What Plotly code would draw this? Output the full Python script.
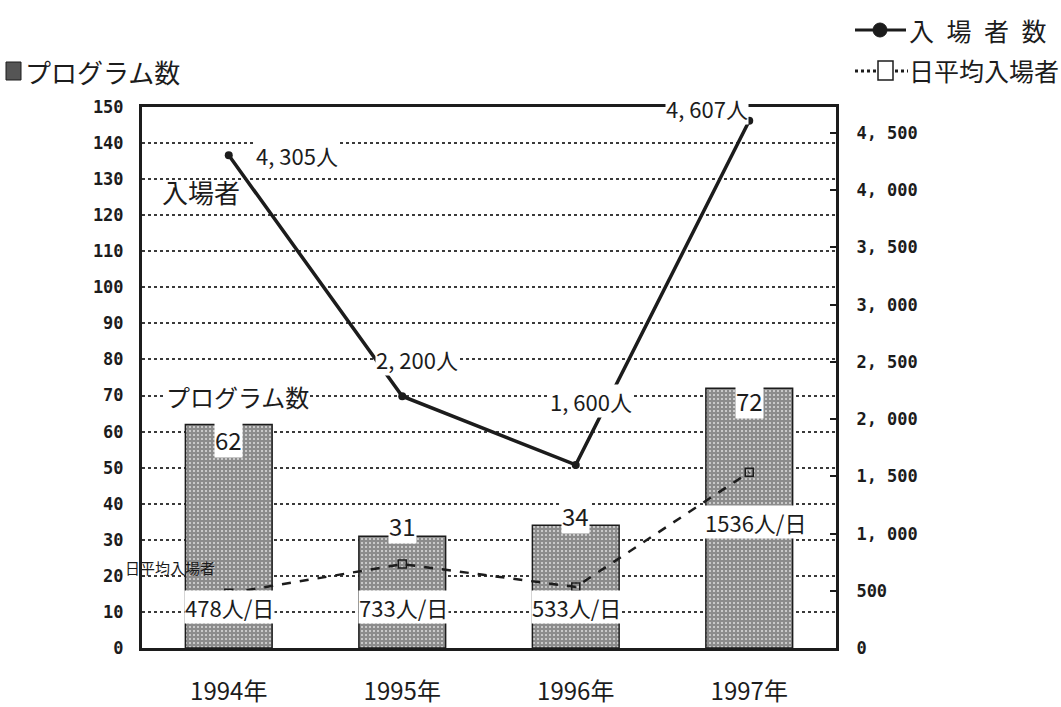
import plotly.graph_objects as go

# ---- data -------------------------------------------------------------
years = ["1994年", "1995年", "1996年", "1997年"]
programs = [62, 31, 34, 72]            # プログラム数 (left axis)
visitors = [4305, 2200, 1600, 4607]    # 入場者数 (right axis)
daily = [478, 733, 533, 1536]          # 日平均入場者 (right axis)

left_ticks = list(range(0, 151, 10))
right_ticks = list(range(0, 4501, 500))

# ---- layout constants (pixels) ---------------------------------------
W, H = 1061, 707
ML, MR, MT, MB = 142, 225, 107, 59
PW, PH = W - ML - MR, H - MT - MB

INK = "#1c1c1c"
JP = "Noto Sans CJK JP"
MONO = "DejaVu Sans Mono"


def px(x):
    return (x - ML) / PW


def py(y):
    return (H - MB - y) / PH


xs = list(range(len(years)))

fig = go.Figure()

fig.add_trace(go.Bar(
    x=xs, y=programs, width=0.5, yaxis="y",
    marker=dict(
        color="white",
        line=dict(color=INK, width=1.5),
        pattern=dict(shape="+", size=4, solidity=0.88, fgcolor="#1a1a1a", bgcolor="white"),
    ),
    showlegend=False, hoverinfo="skip",
))

fig.add_trace(go.Scatter(
    x=xs, y=daily, yaxis="y2", mode="lines+markers",
    line=dict(color=INK, width=2.5, dash="dash"),
    marker=dict(symbol="square-open", size=8, color=INK, line=dict(width=1.5)),
    showlegend=False, hoverinfo="skip",
))

fig.add_trace(go.Scatter(
    x=xs, y=visitors, yaxis="y2", mode="lines+markers",
    line=dict(color=INK, width=3.5),
    marker=dict(symbol="circle", size=8, color=INK),
    showlegend=False, hoverinfo="skip",
))

ann = []


def label(text, x, y, yref="y", size=22, bg="white", xshift=0, yshift=0,
          xanchor="center", font=JP, xref="x"):
    ann.append(dict(
        text=text, x=x, y=y, xref=xref, yref=yref, showarrow=False,
        xanchor=xanchor, yanchor="middle", xshift=xshift, yshift=yshift,
        bgcolor=bg, borderpad=0,
        font=dict(family=font, size=size, color=INK),
    ))


def fmt_people(v):
    return f"{v:,}".replace(",", ", ") + "人"


# 入場者 labels
label(fmt_people(visitors[0]), 0, visitors[0], yref="y2", xanchor="left", xshift=26)
label(fmt_people(visitors[1]), 1, visitors[1], yref="y2", xshift=15, yshift=37)
label(fmt_people(visitors[2]), 2, visitors[2], yref="y2", xshift=15, yshift=64)
label(fmt_people(visitors[3]), 3, visitors[3], yref="y2", xshift=-42, yshift=13)

# program counts
label(str(programs[0]), 0, programs[0], size=24, yshift=-15)
label(str(programs[1]), 1, programs[1], size=24, yshift=11)
label(str(programs[2]), 2, programs[2], size=24, yshift=10)
label(str(programs[3]), 3, programs[3], size=24, yshift=-12)

# daily average per year
for i, v in enumerate(daily[:3]):
    label(f"{v}人/日", i, 11.4, size=22, xshift=1)
label(f"{daily[3]}人/日", 3, 35, size=22, xshift=6)

# series captions inside the plot
label("入場者", -0.16, 126.7, size=26, bg="rgba(0,0,0,0)")
label("プログラム数", 0.05, 69.7, size=24)
label("日平均入場者", -0.34, 22.2, size=15, bg="rgba(0,0,0,0)")

# legends
label("プログラム数", px(24), py(71), xref="paper", yref="paper", size=26,
      xanchor="left", bg="rgba(0,0,0,0)")
label("入\u2002場\u2002者\u2002数", px(908), py(30), xref="paper", yref="paper",
      size=25, xanchor="left", bg="rgba(0,0,0,0)")
label("日平均入場者", px(908), py(70), xref="paper", yref="paper",
      size=25, xanchor="left", bg="rgba(0,0,0,0)")

shapes = [
    # program-count swatch
    dict(type="rect", xref="paper", yref="paper",
         x0=px(6), x1=px(21), y0=py(80), y1=py(62),
         fillcolor="#555555", line=dict(color=INK, width=1)),
    # 入場者数 swatch
    dict(type="line", xref="paper", yref="paper",
         x0=px(855), x1=px(906), y0=py(30), y1=py(30),
         line=dict(color=INK, width=3)),
    dict(type="circle", xref="paper", yref="paper",
         x0=px(873), x1=px(887), y0=py(37), y1=py(23),
         fillcolor=INK, line=dict(color=INK, width=1)),
    # 日平均入場者 swatch
    dict(type="line", xref="paper", yref="paper",
         x0=px(855), x1=px(876), y0=py(71), y1=py(71),
         line=dict(color=INK, width=3, dash="dot")),
    dict(type="rect", xref="paper", yref="paper",
         x0=px(878), x1=px(893), y0=py(80), y1=py(61),
         fillcolor="white", line=dict(color=INK, width=1.5)),
    dict(type="line", xref="paper", yref="paper",
         x0=px(895), x1=px(908), y0=py(71), y1=py(71),
         line=dict(color=INK, width=3, dash="dot")),
]

fig.update_layout(
    width=W, height=H,
    margin=dict(l=ML, r=MR, t=MT, b=MB, pad=0, autoexpand=False),
    paper_bgcolor="white", plot_bgcolor="white",
    showlegend=False,
    annotations=ann, shapes=shapes,
    xaxis=dict(
        range=[-0.5, 3.5], tickvals=xs, ticktext=years,
        showgrid=False, zeroline=False, automargin=False,
        showline=True, linewidth=3, linecolor=INK, mirror=True,
        ticks="", ticklabelstandoff=20,
        tickfont=dict(family=JP, size=24, color=INK),
    ),
    yaxis=dict(
        range=[0, 150], tickvals=left_ticks, automargin=False,
        showgrid=True, gridcolor="#3a3a3a", gridwidth=1.5, griddash="dot",
        zeroline=False,
        showline=True, linewidth=3, linecolor=INK,
        ticks="", ticklabelstandoff=12,
        tickfont=dict(family=MONO, size=17, color=INK, weight="bold"),
    ),
    yaxis2=dict(
        range=[0, 4727], overlaying="y", side="right", automargin=False,
        tickvals=right_ticks,
        ticktext=[f"{v:,}".replace(",", ", ") for v in right_ticks],
        showgrid=False, zeroline=False,
        showline=True, linewidth=3, linecolor=INK,
        ticks="inside", ticklen=6, tickwidth=2, tickcolor=INK,
        ticklabelstandoff=14,
        tickfont=dict(family=MONO, size=17, color=INK, weight="bold"),
    ),
)

fig.write_html("out.html")
